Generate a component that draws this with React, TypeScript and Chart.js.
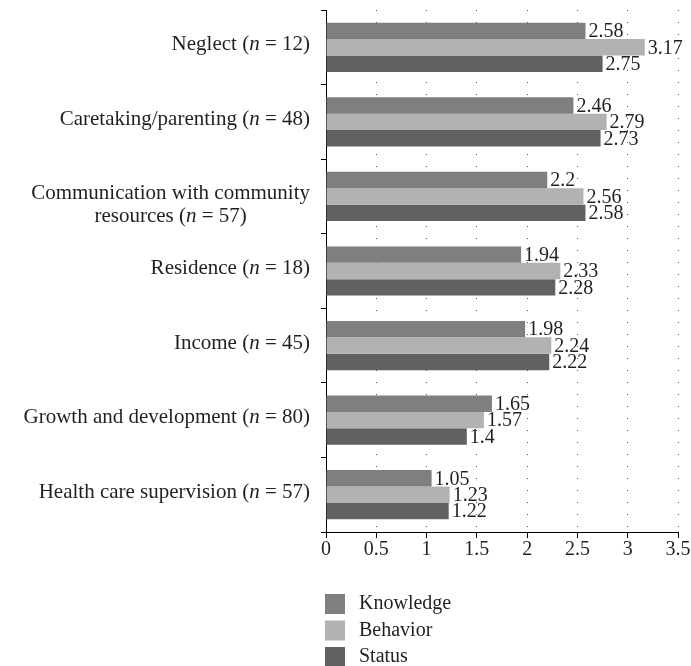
import { useEffect, useRef } from "react";
import { Chart, registerables } from "chart.js";

Chart.register(...registerables);

const categories = [
  "Neglect",
  "Caretaking/parenting",
  "Communication with community\nresources",
  "Residence",
  "Income",
  "Growth and development",
  "Health care supervision",
];
const sampleSizes = [12, 48, 57, 18, 45, 80, 57];
const seriesNames = ["Knowledge", "Behavior", "Status"];
const knowledge = [2.58, 2.46, 2.2, 1.94, 1.98, 1.65, 1.05];
const behavior = [3.17, 2.79, 2.56, 2.33, 2.24, 1.57, 1.23];
const status = [2.75, 2.73, 2.58, 2.28, 2.22, 1.4, 1.22];
const xTicks = [0, 0.5, 1, 1.5, 2, 2.5, 3, 3.5];

const seriesColors = ["#7f7f7f", "#b2b2b2", "#616161"];
const FONT = "'Liberation Serif', 'Times New Roman', serif";
const TEXT = "#231f20";

const categoryLabelsPlugin = {
  id: "categoryLabels",
  afterDraw(chart: any) {
    const ctx = chart.ctx;
    const yScale = chart.scales.y;
    const right = chart.chartArea.left - 16;
    ctx.save();
    ctx.fillStyle = TEXT;
    ctx.textAlign = "left";
    ctx.textBaseline = "alphabetic";
    categories.forEach((name, i) => {
      const cy = yScale.getPixelForTick(i);
      const lines = name.split("\n");
      const last = lines.length - 1;
      const segs: [string, boolean][][] = lines.map((ln, j) =>
        j === last
          ? [
              [ln + " (", false],
              ["n", true],
              [" = " + sampleSizes[i] + ")", false],
            ]
          : [[ln, false]]
      );
      const fontFor = (it: boolean) => (it ? "italic " : "") + "21px " + FONT;
      const widths = segs.map((s) =>
        s.reduce((w, [t, it]) => {
          ctx.font = fontFor(it);
          return w + ctx.measureText(t).width;
        }, 0)
      );
      const blockW = Math.max(...widths);
      const centerX = right - blockW / 2;
      segs.forEach((s, j) => {
        let x = centerX - widths[j] / 2;
        const by = cy + 3 + j * 23;
        s.forEach(([t, it]) => {
          ctx.font = fontFor(it);
          ctx.fillText(t, x, by);
          x += ctx.measureText(t).width;
        });
      });
    });
    ctx.restore();
  },
};

const valueLabelsPlugin = {
  id: "valueLabels",
  afterDatasetsDraw(chart: any) {
    const ctx = chart.ctx;
    ctx.save();
    ctx.fillStyle = TEXT;
    ctx.font = "20px " + FONT;
    ctx.textAlign = "left";
    ctx.textBaseline = "middle";
    chart.data.datasets.forEach((ds: any, i: number) => {
      const meta = chart.getDatasetMeta(i);
      meta.data.forEach((el: any, j: number) => {
        ctx.fillText(String(ds.data[j]), el.x + 3, el.y + 1);
      });
    });
    ctx.restore();
  },
};

const legendPlugin = {
  id: "stackLegend",
  afterDraw(chart: any) {
    const ctx = chart.ctx;
    const x0 = chart.chartArea.left - 1;
    const y0 = chart.chartArea.bottom + 62;
    ctx.save();
    ctx.font = "20px " + FONT;
    ctx.textAlign = "left";
    ctx.textBaseline = "middle";
    chart.data.datasets.forEach((ds: any, i: number) => {
      const y = y0 + i * 26.5;
      ctx.fillStyle = ds.backgroundColor;
      ctx.fillRect(x0, y, 20, 20);
      ctx.fillStyle = TEXT;
      ctx.fillText(ds.label, x0 + 34, y + 10);
    });
    ctx.restore();
  },
};

export default function App() {
  const ref = useRef<HTMLCanvasElement>(null);
  useEffect(() => {
    if (!ref.current) return;
    const dataSeries = [knowledge, behavior, status];
    const chart = new Chart(ref.current, {
      type: "bar",
      data: {
        labels: categories,
        datasets: seriesNames.map((name, i) => ({
          label: name,
          data: dataSeries[i],
          backgroundColor: seriesColors[i],
          borderWidth: 0,
          categoryPercentage: 0.66,
          barPercentage: 1.0,
        })),
      },
      options: {
        indexAxis: "y",
        responsive: false,
        animation: false,
        layout: { padding: { top: 10, right: 13, bottom: 94, left: 0 } },
        plugins: {
          legend: { display: false },
          tooltip: { enabled: false },
        },
        scales: {
          x: {
            min: 0,
            max: 3.5,
            afterBuildTicks: (s: any) => {
              s.ticks = xTicks.map((v) => ({ value: v }));
            },
            afterFit: (s: any) => {
              s.height = 40;
            },
            ticks: {
              color: TEXT,
              font: { family: FONT, size: 20 },
              padding: 0,
              maxRotation: 0,
              callback: (v: any) => String(v),
            },
            grid: {
              display: true,
              drawOnChartArea: true,
              drawTicks: true,
              tickLength: 6,
              color: "#555555",
              tickColor: "#000000",
              lineWidth: 1,
            },
            border: { display: true, color: "#000000", width: 1, dash: [1, 11] },
          },
          y: {
            type: "category",
            offset: true,
            afterFit: (s: any) => {
              s.width = 326;
            },
            ticks: { display: false },
            grid: {
              display: true,
              offset: true,
              drawOnChartArea: false,
              drawTicks: true,
              tickLength: 5,
              color: "#000000",
            },
            border: { display: true, color: "#000000", width: 1 },
          },
        },
      },
      plugins: [valueLabelsPlugin, categoryLabelsPlugin, legendPlugin],
    } as any);
    return () => chart.destroy();
  }, []);
  return (
    <div style={{ position: "absolute", left: 0, top: 0, width: 691, height: 666, background: "#ffffff" }}>
      <canvas ref={ref} width={691} height={666} style={{ display: "block" }} />
    </div>
  );
}
